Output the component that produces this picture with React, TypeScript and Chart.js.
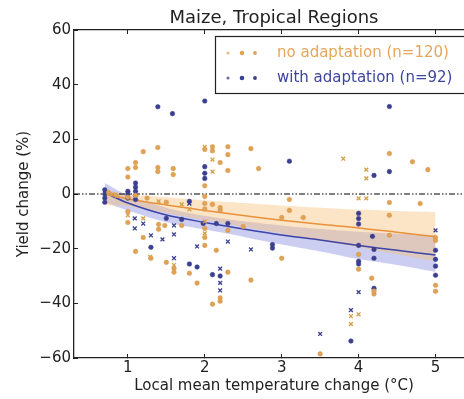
import React, { useEffect, useRef } from "react";
import { Chart, registerables } from "chart.js";

Chart.register(...registerables);

const TITLE = "Maize, Tropical Regions";
const X_LABEL = "Local mean temperature change (°C)";
const Y_LABEL = "Yield change (%)";
const X_TICKS = [1, 2, 3, 4, 5];
const Y_TICKS = [-60, -40, -20, 0, 20, 40, 60];
const X_MIN = 0.3;
const X_MAX = 5.5;
const Y_MIN = -60;
const Y_MAX = 60;
const LEGEND_LABELS = ["no adaptation (n=120)", "with adaptation (n=92)"];

// no adaptation: circle markers
const noAdaptDots: [number, number][] = [
  [1.0, 9.3], [1.0, 6.2], [1.1, 11.5], [1.1, 9.7], [1.2, 15.5], [1.39, 17], [1.39, 9.7], [1.39, 8.2],
  [1.59, 9.3], [1.59, 7.1], [2.0, 16.3], [2.1, 17.3], [2.1, 15.8], [2.2, 11.5], [2.3, 17.3], [2.3, 14.4],
  [2.3, 8.6], [2.0, 3.0], [2.6, 16.6], [2.7, 9.3], [4.4, 14.8], [4.7, 11.8], [4.9, 8.9],
  [0.75, 0.5], [0.85, -0.5], [1.0, -1.2], [1.1, -0.5], [1.25, -1.5], [1.0, -6.4], [1.0, -10.4], [1.1, -21],
  [1.2, -15.9], [1.3, -23.5], [1.5, -3], [1.4, -11.1], [1.4, -12.9], [1.48, -11.5], [1.5, -25], [1.6, -27.2],
  [1.6, -28.6], [1.7, -11.5], [1.8, -29], [1.9, -32.6], [2.0, -0.9], [2.0, -3.5], [2.0, -5.5], [2.0, -12.6],
  [2.0, -15.9], [2.0, -18.8], [2.1, -3.8], [2.2, -5], [2.2, -6], [2.15, -20.6], [2.1, -40.3], [2.2, -38],
  [2.2, -39.2], [2.3, -13.3], [2.3, -28.6], [2.5, -11.9], [2.6, -31.5], [3.0, -8.6], [3.0, -23.5], [3.1, -2],
  [3.1, -6], [3.28, -8.6], [3.5, -58.5], [4.0, -22.1], [4.0, -27.5], [4.17, -30.8], [4.2, -36.6], [4.2, -35.5],
  [4.4, -3.1], [4.4, -7.8], [4.4, -15.1], [4.8, -3.5], [5.0, -15.9], [5.0, -17], [5.0, -33.4], [5.0, -35.6],
];

// no adaptation: cross markers
const noAdaptCrosses: [number, number][] = [
  [2.0, 17.2], [2.1, 12.6], [2.1, 8.2], [0.8, 0], [1.4, -2.7], [1.7, -3.8], [1.8, -5.6], [1.2, -8.9],
  [2.0, -14.4], [1.6, -26], [1.29, -23], [3.8, 12.9], [4.1, 8.9], [4.1, 5.7], [4.0, -1.6], [4.1, -1.6],
  [3.9, -44.7], [3.9, -47.6], [4.0, -44], [2.0, -10], [1.0, -7.8],
];

// with adaptation: circle markers
const withAdaptDots: [number, number][] = [
  [1.39, 31.9], [1.58, 29.4], [2.0, 34], [4.4, 32], [3.1, 12], [4.2, 6.8], [4.4, 8.2], [2.0, 10],
  [2.0, 5.7], [2.0, 7.6], [0.7, 1.5], [0.7, 0], [0.7, -1.5], [0.7, -3], [1.0, 1], [1.0, 0], [1.0, -1.5],
  [1.1, 4], [1.1, 2.5], [1.1, 1], [1.1, -0.5], [1.1, -2], [1.3, -19.5], [1.5, -8.9], [1.7, -9.3],
  [1.98, -10.8], [2.15, -10.8], [2.3, -10.8], [2.88, -18.5], [2.88, -19.8], [2.1, -29.5], [2.2, -30],
  [1.9, -26.7], [1.8, -25.6], [1.8, -2.7], [4.0, -7.1], [4.0, -9], [4.0, -11], [4.18, -15.5], [4.0, -18.8],
  [4.2, -20.3], [4.0, -24.6], [4.0, -25.6], [4.2, -23.5], [4.2, -34.5], [3.9, -53.8], [5.0, -20.6],
  [5.0, -23.9], [5.0, -26.4], [5.0, -29.7],
];

// with adaptation: cross markers
const withAdaptCrosses: [number, number][] = [
  [1.09, -8.9], [1.09, -12.6], [1.2, -10.8], [1.3, -15.1], [1.6, -11.5], [1.6, -14.8], [1.6, -23.5],
  [1.45, -16.6], [1.8, -3.5], [1.9, -19.2], [2.3, -17.4], [2.6, -20.3], [2.2, -27.3], [2.2, -35.3],
  [2.2, -32.5], [4.0, -35.9], [3.9, -42.5], [3.5, -51.2], [5.0, -13.3], [4.2, -35.3],
];

// regression fits and confidence bands
const fitX = [0.7, 1, 1.5, 2, 2.5, 3, 3.5, 4, 4.5, 5];
const noAdaptFit = [0, -1.8, -4, -6, -7.9, -9.6, -11.1, -12.4, -14, -15.6];
const noAdaptUpper = [1.5, 0, -1.2, -2.3, -3.3, -4.2, -5, -5.7, -6.2, -6.6];
const noAdaptLower = [-4, -4.5, -7, -9.5, -12, -14.5, -17, -19.5, -22, -24.6];
const withAdaptFit = [0.5, -3.3, -7.7, -10.4, -12.8, -15, -16.8, -18.8, -20.6, -22.3];
const withAdaptUpper = [4, -0.5, -5, -8, -10, -11.5, -12.8, -13.8, -14.5, -15];
const withAdaptLower = [-3, -6, -10.3, -13, -15.6, -18.5, -21, -23.8, -26, -28.5];

const ORANGE = "#e0a356";
const ORANGE_LINE = "#e8923c";
const ORANGE_TEXT = "#e6a55c";
const BLUE = "#3a3f90";
const BLUE_LINE = "#3c44a8";
const BLUE_TEXT = "#3d459e";
const FONT = "'DejaVu Sans', sans-serif";
const INK = "#222222";

const pts = (arr: [number, number][]) => arr.map(([x, y]) => ({ x, y }));
const curve = (ys: number[]) => fitX.map((x, i) => ({ x, y: ys[i] }));

const legendPlugin = {
  id: "legendBox",
  afterDatasetsDraw(chart: any) {
    const ctx = chart.ctx;
    ctx.save();
    const bx = 215.5, by = 36.5, bw = 270, bh = 57;
    ctx.fillStyle = "#ffffff";
    ctx.fillRect(bx, by, bw, bh);
    ctx.strokeStyle = INK;
    ctx.lineWidth = 1.2;
    ctx.strokeRect(bx, by, bw, bh);
    const rows = [
      { y: 53, color: ORANGE, text: ORANGE_TEXT, label: LEGEND_LABELS[0] },
      { y: 78, color: BLUE, text: BLUE_TEXT, label: LEGEND_LABELS[1] },
    ];
    const dotX = [228, 242, 255];
    const dotR = [1.6, 2.3, 1.9];
    rows.forEach((r) => {
      dotX.forEach((dx, i) => {
        ctx.beginPath();
        ctx.fillStyle = r.color;
        ctx.globalAlpha = i === 0 ? 0.75 : 1;
        ctx.arc(dx, r.y, dotR[i], 0, Math.PI * 2);
        ctx.fill();
      });
      ctx.globalAlpha = 1;
      ctx.fillStyle = r.text;
      ctx.font = `15px ${FONT}`;
      ctx.textAlign = "left";
      ctx.textBaseline = "middle";
      ctx.fillText(r.label, 277, r.y);
    });
    ctx.restore();
  },
};

export default function App() {
  const ref = useRef<HTMLCanvasElement | null>(null);

  useEffect(() => {
    if (!ref.current) return;
    const bandLine = (label: string, ys: number[], fill: any, bg?: string) => ({
      type: "line",
      label,
      data: curve(ys),
      borderWidth: 0,
      borderColor: "rgba(0,0,0,0)",
      pointRadius: 0,
      tension: 0.3,
      fill,
      backgroundColor: bg,
    });
    const tickGrid = {
      display: true,
      drawOnChartArea: false,
      drawTicks: true,
      tickLength: -4,
      color: INK,
      lineWidth: 1,
    };
    const chart = new Chart(ref.current, {
      type: "scatter",
      data: {
        datasets: [
          {
            type: "scatter",
            label: LEGEND_LABELS[0],
            data: pts(noAdaptDots),
            pointStyle: "circle",
            pointRadius: 2.3,
            backgroundColor: ORANGE,
            borderColor: "#d89445",
            borderWidth: 0.5,
          },
          {
            type: "scatter",
            label: LEGEND_LABELS[0] + " x",
            data: pts(noAdaptCrosses),
            pointStyle: "crossRot",
            pointRadius: 2.7,
            borderColor: "#d4a046",
            borderWidth: 1.3,
          },
          {
            type: "scatter",
            label: LEGEND_LABELS[1],
            data: pts(withAdaptDots),
            pointStyle: "circle",
            pointRadius: 2.3,
            backgroundColor: BLUE,
            borderColor: BLUE,
            borderWidth: 0.5,
          },
          {
            type: "scatter",
            label: LEGEND_LABELS[1] + " x",
            data: pts(withAdaptCrosses),
            pointStyle: "crossRot",
            pointRadius: 2.7,
            borderColor: BLUE,
            borderWidth: 1.3,
          },
          {
            type: "line",
            label: "fit no adaptation",
            data: curve(noAdaptFit),
            borderColor: ORANGE_LINE,
            borderWidth: 1.5,
            pointRadius: 0,
            tension: 0.3,
            fill: false,
          },
          {
            type: "line",
            label: "fit with adaptation",
            data: curve(withAdaptFit),
            borderColor: BLUE_LINE,
            borderWidth: 1.5,
            pointRadius: 0,
            tension: 0.3,
            fill: false,
          },
          {
            type: "line",
            label: "zero",
            data: [
              { x: X_MIN, y: 0 },
              { x: X_MAX, y: 0 },
            ],
            borderColor: "#000",
            borderWidth: 1.2,
            borderDash: [6, 2, 1.5, 2, 1.5, 2],
            pointRadius: 0,
            fill: false,
          },
          bandLine("band no upper", noAdaptUpper, "+1", "rgba(248,190,120,0.42)"),
          bandLine("band no lower", noAdaptLower, false),
          bandLine("band with upper", withAdaptUpper, "+1", "rgba(110,120,215,0.36)"),
          bandLine("band with lower", withAdaptLower, false),
        ],
      },
      options: {
        animation: false,
        responsive: false,
        devicePixelRatio: 1,
        layout: { padding: { left: 0, right: 6, top: 0, bottom: 0 } },
        plugins: {
          legend: { display: false },
          tooltip: { enabled: false },
          title: {
            display: true,
            text: TITLE,
            fullSize: false,
            color: INK,
            font: { family: FONT, size: 18, weight: "normal", lineHeight: 1.2 },
            padding: { top: 8, bottom: 0.4 },
          },
        },
        scales: {
          x: {
            type: "linear",
            position: "bottom",
            min: X_MIN,
            max: X_MAX,
            grid: tickGrid,
            border: { display: true, color: INK, width: 1.3 },
            afterFit: (s: any) => {
              s.height = 41;
            },
            afterBuildTicks: (s: any) => {
              s.ticks = X_TICKS.map((v) => ({ value: v }));
            },
            ticks: {
              color: INK,
              padding: 5.5,
              maxRotation: 0,
              font: { family: FONT, size: 15 },
              callback: (v: any) => String(v),
            },
            title: {
              display: true,
              text: X_LABEL,
              color: INK,
              font: { family: FONT, size: 15 },
              padding: { top: 0, bottom: 4 },
            },
          },
          xTop: {
            type: "linear",
            position: "top",
            min: X_MIN,
            max: X_MAX,
            grid: tickGrid,
            border: { display: true, color: INK, width: 1.3 },
            afterFit: (s: any) => {
              s.height = 0;
            },
            afterBuildTicks: (s: any) => {
              s.ticks = X_TICKS.map((v) => ({ value: v }));
            },
            ticks: { display: false },
          },
          y: {
            type: "linear",
            min: Y_MIN,
            max: Y_MAX,
            grid: tickGrid,
            border: { display: true, color: INK, width: 1.3 },
            afterFit: (s: any) => {
              s.width = 74;
            },
            afterBuildTicks: (s: any) => {
              s.ticks = Y_TICKS.map((v) => ({ value: v }));
            },
            ticks: {
              color: INK,
              padding: 7,
              font: { family: FONT, size: 15 },
              callback: (v: any) => String(v).replace("-", "\u2212"),
            },
            title: {
              display: true,
              text: Y_LABEL,
              color: INK,
              font: { family: FONT, size: 15 },
              padding: { top: 15, bottom: 0 },
            },
          },
        },
      },
      plugins: [legendPlugin],
    } as any);
    return () => chart.destroy();
  }, []);

  return (
    <div
      style={{
        position: "fixed",
        left: 0,
        top: 0,
        width: 464,
        height: 399,
        overflow: "hidden",
        background: "#fff",
      }}
    >
      <canvas ref={ref} width={480} height={399} style={{ width: 480, height: 399, display: "block" }} />
    </div>
  );
}
